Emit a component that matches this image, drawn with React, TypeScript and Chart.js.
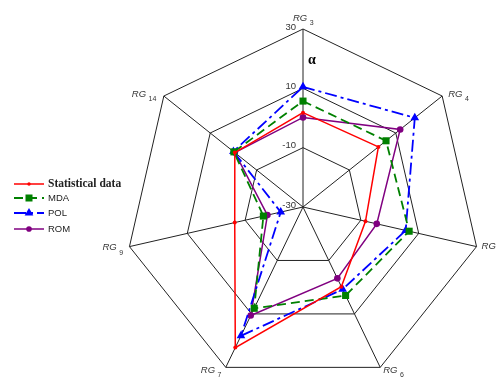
import React, { useEffect, useRef } from "react";
import { Chart, registerables } from "chart.js";

Chart.register(...registerables);

// Axis names (RG + subscript), clockwise from top
const axisMain = ["RG", "RG", "RG", "RG", "RG", "RG", "RG"];
const axisSub = ["3", "4", "5", "6", "7", "9", "14"];
const categories = axisSub.map((s) => "RG" + s);

const tickValues = [-30, -10, 10, 30];
const tickLabels = ["-30", "-10", "10", "30"];

const seriesNames = ["Statistical data", "MDA", "POL", "ROM"];
const statistical = [1.8, 2.5, -8.4, -0.2, 22.6, -6.4, -0.6];
const mda = [5.7, 5.8, 6.7, 3.1, 7.9, -16.3, -0.2];
const pol = [10.5, 18.2, 5.5, 0.8, 18.2, -22.3, 0.0];
const rom = [0.2, 11.9, -4.5, -3.3, 10.6, -17.7, -0.6];

const colors = ["#ff0000", "#008000", "#0000ff", "#800080"];
const dashes: number[][] = [[], [9, 5], [12, 4, 3, 4], []];
const widths = [1.5, 1.8, 1.8, 1.5];
const pstyles = ["circle", "rect", "triangle", "circle"];
const pradius = [2, 5, 5, 3.3];

// label offsets relative to the outer vertex: [dx, dy]
const labelOffsets: number[][] = [
  [-10, -11],
  [6, -2],
  [5, 0],
  [3, 3],
  [-25, 3],
  [-27, 1],
  [-32, -2],
];

const overlayPlugin = {
  id: "overlay",
  afterDraw(chart: any) {
    const ctx = chart.ctx as CanvasRenderingContext2D;
    const scale = chart.scales.r;
    ctx.save();
    // axis (point) labels
    for (let i = 0; i < categories.length; i++) {
      const p = scale.getPointPosition(i, scale.drawingArea);
      const x = p.x + labelOffsets[i][0];
      const y = p.y + labelOffsets[i][1];
      ctx.fillStyle = "#333";
      ctx.textAlign = "left";
      ctx.textBaseline = "middle";
      ctx.font = "italic 9.5px 'Liberation Sans', Arial, sans-serif";
      ctx.fillText(axisMain[i], x, y);
      const w = ctx.measureText(axisMain[i]).width;
      ctx.font = "7px 'Liberation Sans', Arial, sans-serif";
      ctx.fillText(axisSub[i], x + w + 2.5, y + 5);
    }
    // tick labels along the top axis
    ctx.font = "9.5px 'Liberation Sans', Arial, sans-serif";
    ctx.fillStyle = "#333";
    ctx.textAlign = "right";
    ctx.textBaseline = "middle";
    tickValues.forEach((v, k) => {
      const p = scale.getPointPosition(0, scale.getDistanceFromCenterForValue(v));
      ctx.fillText(tickLabels[k], p.x - 7, p.y - 2);
    });
    // alpha
    ctx.font = "bold 14px 'Liberation Serif', 'Times New Roman', serif";
    ctx.fillStyle = "#000";
    ctx.textAlign = "center";
    ctx.fillText("α", scale.xCenter + 9, scale.yCenter - 147);

    // legend
    const lx0 = 14, lx1 = 44, mx = 29;
    const ys = [184, 198, 213, 229];
    for (let k = 0; k < seriesNames.length; k++) {
      const y = ys[k];
      ctx.strokeStyle = colors[k];
      ctx.fillStyle = colors[k];
      ctx.lineWidth = widths[k];
      ctx.setLineDash(dashes[k]);
      ctx.beginPath();
      ctx.moveTo(lx0, y);
      ctx.lineTo(lx1, y);
      ctx.stroke();
      ctx.setLineDash([]);
      const r = pradius[k];
      ctx.beginPath();
      if (pstyles[k] === "rect") {
        ctx.fillRect(mx - r * 0.7, y - r * 0.7, r * 1.4, r * 1.4);
      } else if (pstyles[k] === "triangle") {
        ctx.moveTo(mx, y - r);
        ctx.lineTo(mx + r * 0.87, y + r * 0.5);
        ctx.lineTo(mx - r * 0.87, y + r * 0.5);
        ctx.closePath();
        ctx.fill();
      } else {
        ctx.arc(mx, y, r * 0.85, 0, Math.PI * 2);
        ctx.fill();
      }
      ctx.fillStyle = "#222";
      ctx.textAlign = "left";
      ctx.textBaseline = "middle";
      ctx.font =
        k === 0
          ? "bold 11.5px 'Liberation Serif', 'Times New Roman', serif"
          : "9.5px 'Liberation Sans', Arial, sans-serif";
      ctx.fillText(seriesNames[k], 48, y);
    }
    ctx.restore();
  },
};

export default function App() {
  const ref = useRef<HTMLCanvasElement | null>(null);
  useEffect(() => {
    if (!ref.current) return;
    const values = [statistical, mda, pol, rom];
    const chart = new Chart(ref.current, {
      type: "radar",
      data: {
        labels: categories,
        datasets: values.map((d, k) => ({
          label: seriesNames[k],
          data: d,
          borderColor: colors[k],
          backgroundColor: colors[k],
          pointBackgroundColor: colors[k],
          pointBorderColor: colors[k],
          borderWidth: widths[k],
          borderDash: dashes[k],
          pointStyle: pstyles[k] as any,
          pointRadius: pradius[k],
          pointBorderWidth: 0,
          fill: false,
          tension: 0,
        })),
      },
      options: {
        responsive: false,
        animation: false,
        layout: { padding: { left: 125, right: 16, top: 29, bottom: 35 } },
        plugins: { legend: { display: false }, tooltip: { enabled: false } },
        scales: {
          r: {
            min: -30,
            max: 30,
            startAngle: 0,
            ticks: { display: false, stepSize: 20 },
            pointLabels: { display: false },
            grid: { color: "#222", lineWidth: 1 },
            angleLines: { color: "#222", lineWidth: 1 },
          },
        },
      },
      plugins: [overlayPlugin],
    });
    return () => chart.destroy();
  }, []);
  return (
    <div
      style={{
        position: "fixed",
        left: 0,
        top: 0,
        width: 497,
        height: 381,
        overflow: "hidden",
        background: "#fff",
      }}
    >
      <canvas ref={ref} width={497} height={420} style={{ display: "block" }} />
    </div>
  );
}
